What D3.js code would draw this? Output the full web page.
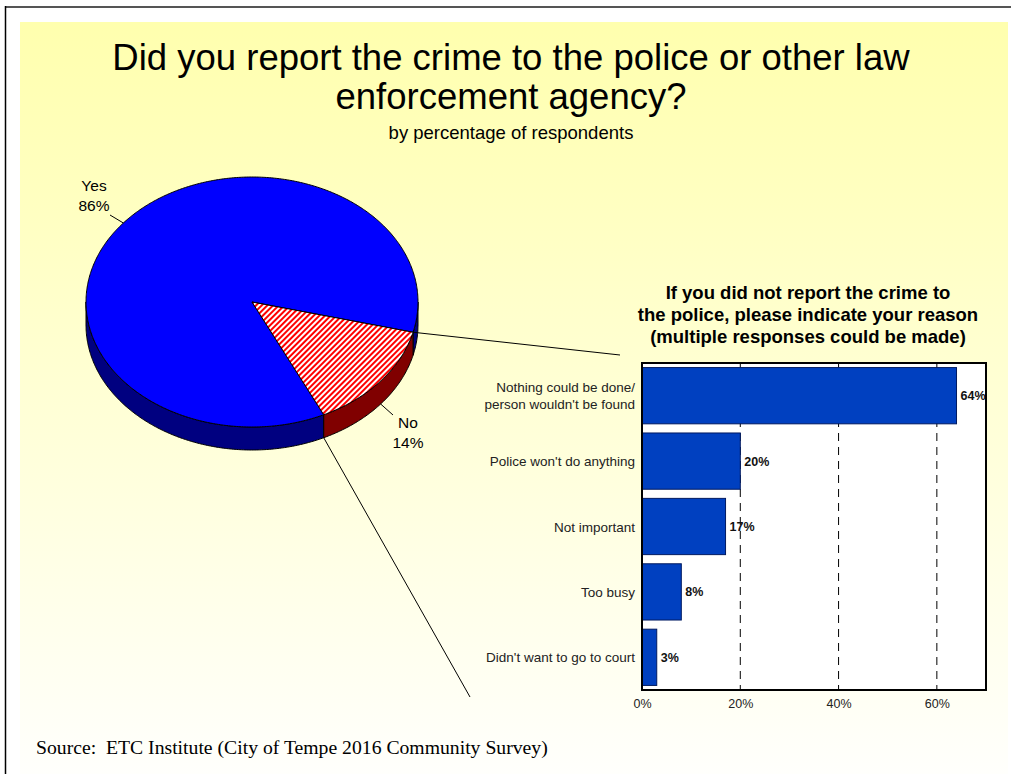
<!DOCTYPE html>
<html>
<head>
<meta charset="utf-8">
<script src="https://cdn.jsdelivr.net/npm/d3@7"></script>
<style>
  body { margin: 0; background: #fff; }
  svg { display: block; }
</style>
</head>
<body>
<svg id="chart" width="1011" height="774"></svg>
<script>
let width = 1011;
let height = 774;

// pie data
let pieLabels = ['Yes', 'No'];
let pieValues = [86, 14];

// bar data
let reasons = [
  'Nothing could be done/\nperson wouldn\'t be found',
  'Police won\'t do anything',
  'Not important',
  'Too busy',
  'Didn\'t want to go to court'
];
let reasonValues = [64, 20, 17, 8, 3];
let xTicks = [0, 20, 40, 60];

let titleLines = ['Did you report the crime to the police or other law', 'enforcement agency?'];
let barTitleLines = ['If you did not report the crime to', 'the police, please indicate your reason', '(multiple responses could be made)'];

const svg = d3.select('#chart');
const defs = svg.append('defs');

let grad = defs.append('linearGradient')
  .attr('id', 'bg')
  .attr('x1', 0).attr('y1', 0).attr('x2', 0).attr('y2', 1);
grad.append('stop').attr('offset', '0%').attr('stop-color', '#ffffae');
grad.append('stop').attr('offset', '100%').attr('stop-color', '#fffffc');

let hatch = defs.append('pattern')
  .attr('id', 'hatch')
  .attr('width', 4).attr('height', 4)
  .attr('patternUnits', 'userSpaceOnUse')
  .attr('patternTransform', 'rotate(45)');
hatch.append('rect').attr('width', 4).attr('height', 4).attr('fill', '#fff');
hatch.append('rect').attr('width', 2).attr('height', 4).attr('fill', '#ff0000');

// page frame + panel
svg.append('rect')
  .attr('x', 20).attr('y', 22).attr('width', 988).attr('height', height - 22)
  .attr('fill', 'url(#bg)');
svg.append('line')
  .attr('x1', 5).attr('y1', 7).attr('x2', width).attr('y2', 7)
  .attr('stroke', '#555').attr('stroke-width', 2);
svg.append('line')
  .attr('x1', 5.5).attr('y1', 6).attr('x2', 5.5).attr('y2', height)
  .attr('stroke', '#000').attr('stroke-width', 1.5);

// titles
svg.append('g').selectAll('text')
  .data(titleLines)
  .join('text')
  .attr('x', 511)
  .attr('y', (d, i) => 70 + i * 39)
  .attr('text-anchor', 'middle')
  .attr('font-family', 'Liberation Sans, Arial, sans-serif')
  .attr('font-size', 36.5)
  .attr('fill', '#000')
  .text(d => d);

svg.append('text')
  .attr('x', 511).attr('y', 139)
  .attr('text-anchor', 'middle')
  .attr('font-family', 'Liberation Sans, Arial, sans-serif')
  .attr('font-size', 18.5)
  .text('by percentage of respondents');

// ---- 3D pie ----
const cx = 252, cy = 302, rx = 166, ry = 125, depth = 23;
const pt = (a, dy = 0) => [cx + rx * Math.sin(a), cy - ry * Math.cos(a) + dy];

const pie = d3.pie().sort(null)
  .startAngle((154.4) * Math.PI / 180)
  .endAngle((154.4 + 360) * Math.PI / 180);
const arcs = pie(pieValues);

const topFill = ['#0000ff', 'url(#hatch)'];
const sideFill = ['#000080', '#800000'];

function topPath(a0, a1) {
  let p = d3.path();
  p.moveTo(cx, cy);
  let n = Math.max(2, Math.ceil((a1 - a0) / 0.01));
  for (let i = 0; i <= n; i++) {
    let q = pt(a0 + (a1 - a0) * i / n);
    p.lineTo(q[0], q[1]);
  }
  p.closePath();
  return p.toString();
}

function sidePath(a0, a1) {
  let p = d3.path();
  let n = Math.max(2, Math.ceil((a1 - a0) / 0.01));
  for (let i = 0; i <= n; i++) {
    let q = pt(a0 + (a1 - a0) * i / n);
    if (i === 0) p.moveTo(q[0], q[1]); else p.lineTo(q[0], q[1]);
  }
  for (let i = n; i >= 0; i--) {
    let q = pt(a0 + (a1 - a0) * i / n, depth);
    p.lineTo(q[0], q[1]);
  }
  p.closePath();
  return p.toString();
}

// visible front half: angles PI/2 .. 3PI/2 (mod 2PI)
const TAU = Math.PI * 2;
let sides = [];
arcs.forEach((d, i) => {
  for (let k = -1; k <= 2; k++) {
    let lo = Math.PI / 2 + k * TAU, hi = 3 * Math.PI / 2 + k * TAU;
    let a0 = Math.max(d.startAngle, lo), a1 = Math.min(d.endAngle, hi);
    if (a1 > a0) sides.push({ a0, a1, i });
  }
});

const pieG = svg.append('g');
pieG.selectAll('path.side')
  .data(sides)
  .join('path')
  .attr('class', 'side')
  .attr('d', d => sidePath(d.a0, d.a1))
  .attr('fill', d => sideFill[d.i])
  .attr('stroke', '#000')
  .attr('stroke-width', 1)
  .attr('stroke-linejoin', 'round');

pieG.selectAll('path.top')
  .data(arcs)
  .join('path')
  .attr('class', 'top')
  .attr('d', d => topPath(d.startAngle, d.endAngle))
  .attr('fill', (d, i) => topFill[i])
  .attr('stroke', '#000')
  .attr('stroke-width', 1)
  .attr('stroke-linejoin', 'round');

// pie labels with leader lines
const labelPos = [[94, 186], [408, 423]];
const leaderEnd = [[110, 215], [393, 415]];
arcs.forEach((d, i) => {
  let mid = (d.startAngle + d.endAngle) / 2;
  let s = pt(mid, i === 1 ? depth : 0);
  pieG.append('line')
    .attr('x1', s[0]).attr('y1', s[1])
    .attr('x2', leaderEnd[i][0]).attr('y2', leaderEnd[i][1])
    .attr('stroke', '#000').attr('stroke-width', 1);
  let t = pieG.append('text')
    .attr('text-anchor', 'middle')
    .attr('font-family', 'Liberation Sans, Arial, sans-serif')
    .attr('font-size', 15.5);
  t.append('tspan').attr('x', labelPos[i][0]).attr('y', labelPos[i][1] + 5).text(pieLabels[i]);
  t.append('tspan').attr('x', labelPos[i][0]).attr('y', labelPos[i][1] + 25).text(pieValues[i] + '%');
});

// ---- bar chart ----
const plot = { left: 642, top: 363, right: 986, bottom: 690 };

const x = d3.scaleLinear().domain([0, 70]).range([plot.left, plot.right]);
const y = d3.scaleBand().domain(reasons).range([plot.top, plot.bottom]).paddingInner(0.14).paddingOuter(0.07);

// connector lines from the "No" slice to the bar chart
const noArc = arcs[1];
let c1 = pt(noArc.startAngle);
let c2 = pt(noArc.endAngle, depth);
svg.append('line')
  .attr('x1', c1[0]).attr('y1', c1[1]).attr('x2', 620).attr('y2', 355)
  .attr('stroke', '#000').attr('stroke-width', 1);
svg.append('line')
  .attr('x1', c2[0]).attr('y1', c2[1]).attr('x2', 470).attr('y2', 697)
  .attr('stroke', '#000').attr('stroke-width', 1);

svg.append('g').selectAll('text')
  .data(barTitleLines)
  .join('text')
  .attr('x', 808)
  .attr('y', (d, i) => 299 + i * 22)
  .attr('text-anchor', 'middle')
  .attr('font-family', 'Liberation Sans, Arial, sans-serif')
  .attr('font-weight', 'bold')
  .attr('font-size', 18.5)
  .text(d => d);

const barG = svg.append('g');
barG.append('rect')
  .attr('x', plot.left).attr('y', plot.top)
  .attr('width', plot.right - plot.left).attr('height', plot.bottom - plot.top)
  .attr('fill', '#fff');

barG.selectAll('line.grid')
  .data(xTicks.slice(1))
  .join('line')
  .attr('class', 'grid')
  .attr('x1', d => x(d)).attr('x2', d => x(d))
  .attr('y1', plot.top).attr('y2', plot.bottom)
  .attr('stroke', '#000').attr('stroke-width', 1)
  .attr('stroke-dasharray', '8,6');

barG.selectAll('rect.bar')
  .data(reasonValues)
  .join('rect')
  .attr('class', 'bar')
  .attr('x', x(0))
  .attr('y', (d, i) => y(reasons[i]))
  .attr('width', d => x(d) - x(0))
  .attr('height', y.bandwidth())
  .attr('fill', '#0040c0')
  .attr('stroke', '#001a60')
  .attr('stroke-width', 1);

barG.selectAll('text.val')
  .data(reasonValues)
  .join('text')
  .attr('class', 'val')
  .attr('x', d => x(d) + 4)
  .attr('y', (d, i) => y(reasons[i]) + y.bandwidth() / 2 + 4.5)
  .attr('font-family', 'Liberation Sans, Arial, sans-serif')
  .attr('font-weight', 'bold')
  .attr('font-size', 12.5)
  .attr('fill', '#111')
  .text(d => d + '%');

barG.append('rect')
  .attr('x', plot.left).attr('y', plot.top)
  .attr('width', plot.right - plot.left).attr('height', plot.bottom - plot.top)
  .attr('fill', 'none')
  .attr('stroke', '#000').attr('stroke-width', 2);

// category labels
const catG = barG.append('g');
reasons.forEach(r => {
  let lines = r.split('\n');
  let yc = y(r) + y.bandwidth() / 2;
  let t = catG.append('text')
    .attr('text-anchor', 'end')
    .attr('font-family', 'Liberation Sans, Arial, sans-serif')
    .attr('font-size', 13.5)
    .attr('fill', '#222');
  lines.forEach((l, j) => {
    t.append('tspan')
      .attr('x', plot.left - 7)
      .attr('y', yc + 5 + (j - (lines.length - 1) / 2) * 17)
      .text(l);
  });
});

// x axis
const xAxis = d3.axisBottom(x).tickValues(xTicks).tickSize(0).tickPadding(9).tickFormat(d => d + '%');
barG.append('g')
  .attr('transform', `translate(0,${plot.bottom})`)
  .call(xAxis)
  .call(g => g.select('.domain').remove())
  .call(g => g.selectAll('text')
    .attr('font-family', 'Liberation Sans, Arial, sans-serif')
    .attr('font-size', 12.5)
    .attr('fill', '#222'));

// source
svg.append('text')
  .attr('x', 36).attr('y', 754)
  .attr('font-family', 'Liberation Serif, Times New Roman, serif')
  .attr('font-size', 19.7)
  .attr('xml:space', 'preserve')
  .text('Source:  ETC Institute (City of Tempe 2016 Community Survey)');
</script>
</body>
</html>
